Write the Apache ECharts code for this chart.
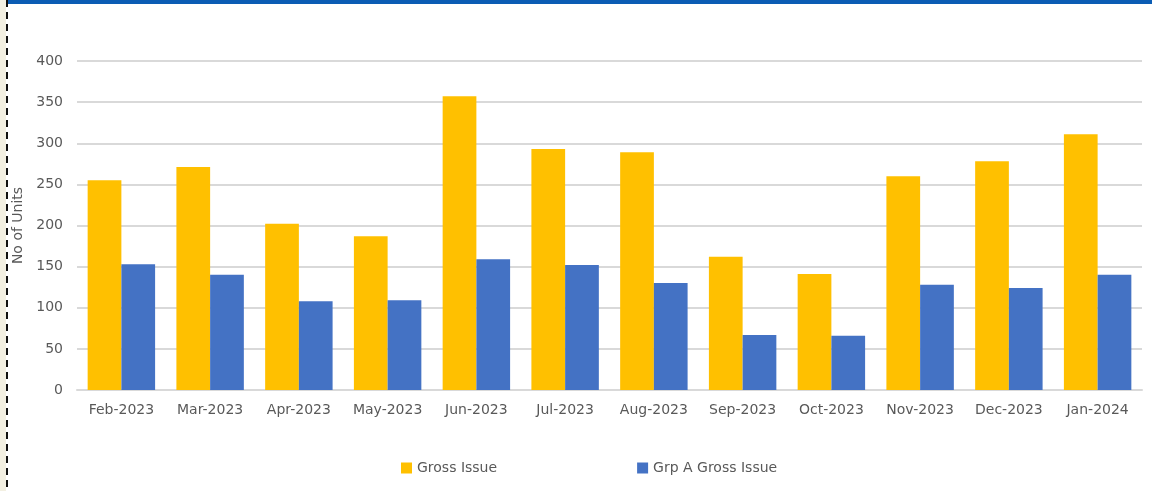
<!DOCTYPE html>
<html>
<head>
<meta charset="utf-8">
<script src="https://cdn.jsdelivr.net/npm/echarts@6/dist/echarts.min.js"></script>
<style>
  html, body { margin: 0; padding: 0; background: #fff; }
  #chart { width: 1152px; height: 491px; }
</style>
</head>
<body>
<div id="chart"></div>
<script>
var months = ["Feb-2023", "Mar-2023", "Apr-2023", "May-2023", "Jun-2023", "Jul-2023",
  "Aug-2023", "Sep-2023", "Oct-2023", "Nov-2023", "Dec-2023", "Jan-2024"];
var grossIssue = [255, 271, 202, 187, 357, 293, 289, 162, 141, 260, 278, 311];
var grpAGrossIssue = [153, 140, 108, 109, 159, 152, 130, 67, 66, 128, 124, 140];

var chart = echarts.init(document.getElementById("chart"));

var option = {
  animation: false,
  color: ["#ffc000", "#4472c4"],
  textStyle: { fontFamily: "DejaVu Sans, sans-serif" },
  graphic: [
    // beige strip + dashed frame edge on the left, blue rule on top
    { type: "rect", left: 0, top: 0, shape: { width: 6, height: 491 }, style: { fill: "#f3f0e2" } },
    { type: "line", shape: { x1: 7, y1: 0, x2: 7, y2: 491 },
      style: { stroke: "#111", lineWidth: 2, lineDash: [7, 5] } },
    { type: "rect", left: 8, top: 0, shape: { width: 1144, height: 4 }, style: { fill: "#0b5cb4" } }
  ],
  legend: {
    top: 456,
    left: 396,
    itemGap: 140,
    itemWidth: 11,
    itemHeight: 11,
    icon: "rect",
    textStyle: { color: "#595959", fontSize: 14 },
    data: ["Gross Issue", "Grp A Gross Issue"]
  },
  grid: { left: 77, right: 10, top: 61, bottom: 101 },
  xAxis: {
    type: "category",
    data: months,
    axisLine: { lineStyle: { color: "#d9d9d9", width: 2 } },
    axisTick: { show: false },
    axisLabel: { color: "#595959", fontSize: 14, margin: 13, interval: 0, hideOverlap: false }
  },
  yAxis: {
    type: "value",
    min: 0,
    max: 400,
    interval: 50,
    name: "No of Units",
    nameLocation: "middle",
    nameRotate: 90,
    nameGap: 47,
    nameTextStyle: { color: "#595959", fontSize: 14 },
    axisLabel: { color: "#595959", fontSize: 14, margin: 14 },
    axisLine: { show: false },
    splitLine: { lineStyle: { color: "#d9d9d9", width: 2 } }
  },
  series: [
    {
      name: "Gross Issue",
      type: "bar",
      data: grossIssue,
      barGap: "0%",
      barCategoryGap: "24%"
    },
    {
      name: "Grp A Gross Issue",
      type: "bar",
      data: grpAGrossIssue,
      barGap: "0%",
      barCategoryGap: "24%"
    }
  ]
};

chart.setOption(option);
</script>
</body>
</html>
